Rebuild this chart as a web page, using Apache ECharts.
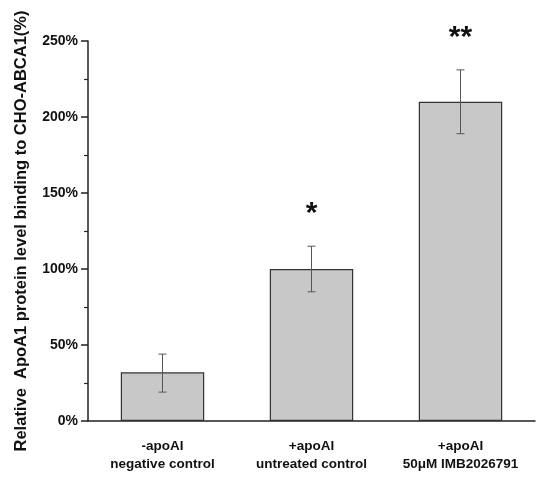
<!DOCTYPE html>
<html lang="en">
<head>
    <meta charset="utf-8"/>
    <title>ApoA1 binding</title>
    <script src="https://cdn.jsdelivr.net/npm/echarts@6/dist/echarts.min.js"></script>
    <style>
        html, body { margin: 0; padding: 0; background: #fff; }
    </style>
</head>
<body>
<div id="main" style="width: 550px;height: 481px;"></div>
<script>
    // data
    var categories = ['-apoAI\nnegative control', '+apoAI\nuntreated control', '+apoAI\n50\u03bcM IMB2026791'];
    var values = [32, 100, 210];
    var errLow = [19, 85, 189];
    var errHigh = [44, 115, 231];
    var stars = ['', '*', '**'];

    var font = 'Liberation Sans, Arial, sans-serif';
    var chartDom = document.getElementById('main');
    var myChart = echarts.init(chartDom);

    var errData = categories.map(function (c, i) {
        return [i, errLow[i], errHigh[i], stars[i]];
    });

    var option = {
        animation: false,
        grid: {left: 88, right: 15, top: 41, bottom: 60},
        xAxis: [
            {
                type: 'category',
                data: categories,
                axisLine: {lineStyle: {color: '#222', width: 1.5}},
                axisTick: {length: 6, lineStyle: {color: '#222', width: 1.5}},
                axisLabel: {
                    interval: 0, hideOverlap: false,
                    fontFamily: font, fontWeight: 'bold', fontSize: 13.5,
                    color: '#111', lineHeight: 18, margin: 16
                }
            },
            {
                type: 'category',
                data: categories,
                position: 'bottom',
                axisLine: {show: false},
                axisTick: {alignWithLabel: true, length: 6, lineStyle: {color: '#222', width: 1.5}},
                axisLabel: {show: false}
            }
        ],
        yAxis: {
            type: 'value',
            min: 0,
            max: 250,
            interval: 50,
            name: 'Relative  ApoA1 protein level binding to CHO-ABCA1(%)',
            nameLocation: 'middle',
            nameGap: 58,
            nameTextStyle: {fontFamily: font, fontWeight: 'bold', fontSize: 16.5, color: '#111'},
            axisLine: {show: true, lineStyle: {color: '#222', width: 1.5}},
            axisTick: {show: true, length: 7, lineStyle: {color: '#222', width: 1.5}},
            minorTick: {show: true, splitNumber: 2, length: 4, lineStyle: {color: '#222', width: 1.2}},
            splitLine: {show: false},
            axisLabel: {
                formatter: '{value}%', fontFamily: font, fontWeight: 'bold',
                fontSize: 14, color: '#111', margin: 10
            }
        },
        series: [
            {
                type: 'bar',
                data: values,
                barWidth: '56%',
                itemStyle: {color: '#c8c8c8', borderColor: '#333', borderWidth: 1.2}
            },
            {
                type: 'custom',
                data: errData,
                z: 10,
                renderItem: function (params, api) {
                    var x = api.value(0);
                    var lo = api.coord([x, api.value(1)]);
                    var hi = api.coord([x, api.value(2)]);
                    var cap = 4;
                    var st = {stroke: '#555', lineWidth: 1};
                    return {
                        type: 'group',
                        children: [
                            {type: 'line', shape: {x1: hi[0], y1: hi[1], x2: lo[0], y2: lo[1]}, style: st},
                            {type: 'line', shape: {x1: hi[0] - cap, y1: hi[1], x2: hi[0] + cap, y2: hi[1]}, style: st},
                            {type: 'line', shape: {x1: lo[0] - cap, y1: lo[1], x2: lo[0] + cap, y2: lo[1]}, style: st},
                            {
                                type: 'text',
                                style: {
                                    text: api.value(3), x: hi[0], y: hi[1] - 32,
                                    align: 'center', verticalAlign: 'middle',
                                    font: 'bold 30px ' + font, fill: '#111'
                                }
                            }
                        ]
                    };
                }
            }
        ]
    };
    myChart.setOption(option);
</script>
</body>
</html>
